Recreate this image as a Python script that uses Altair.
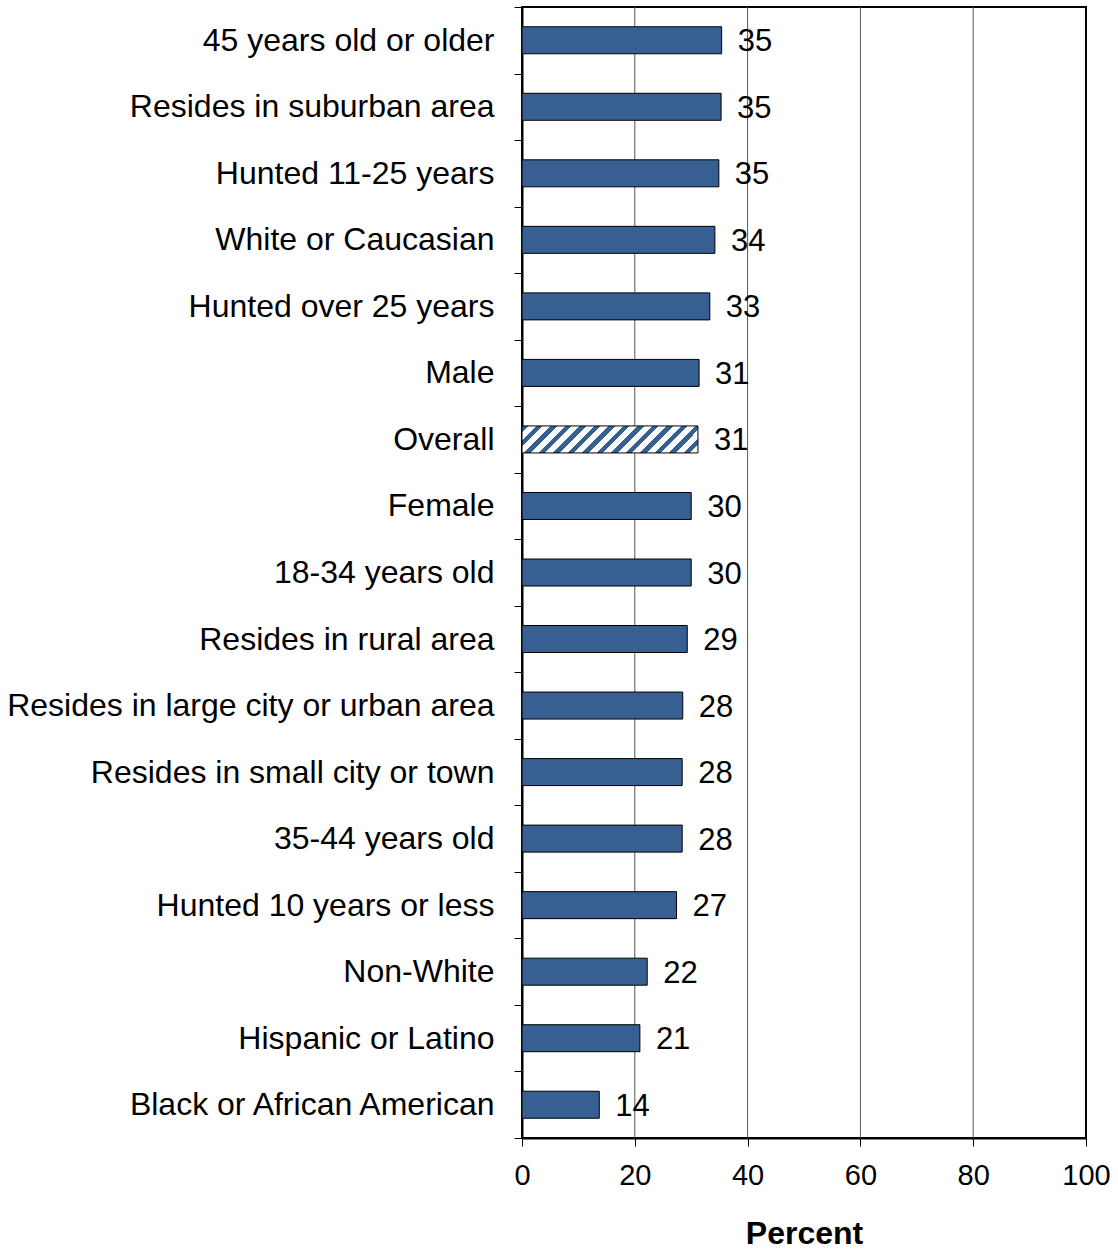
import altair as alt
import pandas as pd

categories = [
    "45 years old or older",
    "Resides in suburban area",
    "Hunted 11-25 years",
    "White or Caucasian",
    "Hunted over 25 years",
    "Male",
    "Overall",
    "Female",
    "18-34 years old",
    "Resides in rural area",
    "Resides in large city or urban area",
    "Resides in small city or town",
    "35-44 years old",
    "Hunted 10 years or less",
    "Non-White",
    "Hispanic or Latino",
    "Black or African American",
]
values = [35.4, 35.3, 34.9, 34.2, 33.3, 31.4, 31.2, 30.0, 30.0, 29.3, 28.5, 28.4, 28.4, 27.4, 22.2, 20.9, 13.7]
labels = [35, 35, 35, 34, 33, 31, 31, 30, 30, 29, 28, 28, 28, 27, 22, 21, 14]
highlight = "Overall"
x_ticks = [0, 20, 40, 60, 80, 100]
grid_lines = [20, 40, 60, 80]

df = pd.DataFrame({"category": categories, "value": values, "label": labels})
df["kind"] = ["overall" if c == highlight else "group" for c in categories]
grid_df = pd.DataFrame({"value": grid_lines})

FONT = "Liberation Sans"
BLUE = "#375F91"

y_enc = alt.Y(
    "category:N",
    sort=categories,
    title=None,
    scale=alt.Scale(paddingInner=0, paddingOuter=0),
    axis=alt.Axis(
        tickBand="extent",
        tickSize=8,
        tickColor="black",
        tickWidth=1,
        domainColor="black",
        domainWidth=2,
        labelFontSize=32,
        labelFont=FONT,
        labelColor="black",
        labelPadding=20,
        grid=False,
        labelLimit=700,
    ),
)
x_scale = alt.Scale(domain=[0, 100], nice=False)
x_enc = alt.X(
    "value:Q",
    title="Percent",
    scale=x_scale,
    axis=alt.Axis(
        values=x_ticks,
        tickSize=8,
        tickColor="black",
        domainColor="black",
        domainWidth=2,
        labelFontSize=29,
        labelFont=FONT,
        labelColor="black",
        labelPadding=15,
        labelFlush=False,
        grid=False,
        titleFontSize=32,
        titleFont=FONT,
        titleFontWeight="bold",
        titleColor="black",
        titlePadding=28,
    ),
)

grid = alt.Chart(grid_df).mark_rule(color="#555555", strokeWidth=1).encode(
    x=alt.X("value:Q", scale=x_scale)
)

base = alt.Chart(df)

bars = base.transform_filter(alt.datum.kind == "group").mark_bar(
    fill=BLUE, stroke="black", strokeWidth=1, size=27
).encode(x=x_enc, y=y_enc)

# diagonal hatch for the Overall bar via a striped linear gradient
stops = []
n = 14
for i in range(n):
    a = i / n
    b = (i + 0.42) / n
    c = (i + 1) / n
    stops += [
        alt.GradientStop(offset=a, color=BLUE),
        alt.GradientStop(offset=b, color=BLUE),
        alt.GradientStop(offset=b, color="white"),
        alt.GradientStop(offset=c, color="white"),
    ]
w, h = 176.0, 27.0
k = (w + h) / (w * w + h * h)
hatch = alt.Gradient(
    gradient="linear",
    stops=stops,
    x1=0, y1=0, x2=k * w, y2=k * h,
)

overall = base.transform_filter(alt.datum.kind == "overall").mark_bar(
    fill=hatch, stroke="black", strokeWidth=1, size=27
).encode(x=x_enc, y=y_enc)

text = base.mark_text(
    align="left", baseline="middle", dx=16, dy=2, fontSize=31, font=FONT, color="black"
).encode(x=x_enc, y=y_enc, text=alt.Text("label:Q", format="d"))

chart = (
    alt.layer(grid, bars, overall, text)
    .properties(
        width=564,
        height=1131,
        background="white",
        autosize=alt.AutoSizeParams(type="none"),
        padding={"left": 522, "top": 7, "right": 32, "bottom": 111},
    )
    .configure_view(stroke="#000000", strokeWidth=2, strokeOpacity=1)
)

chart.save("out.html", embed_options={"renderer": "svg", "actions": False})
